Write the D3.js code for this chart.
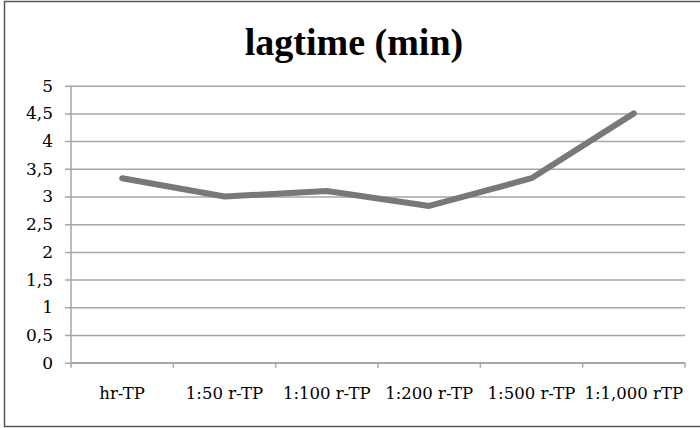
<!DOCTYPE html>
<html>
<head>
<meta charset="utf-8">
<script src="https://cdn.jsdelivr.net/npm/d3@7.9.0/dist/d3.min.js"></script>
<style>
  body { margin: 0; background: #fff; }
  svg { display: block; font-family: "DejaVu Serif", serif; }
</style>
</head>
<body>
<svg width="700" height="428"></svg>
<script>
// chart data
const categories = ['hr-TP', '1:50 r-TP', '1:100 r-TP', '1:200 r-TP', '1:500 r-TP', '1:1,000 rTP'];
const lagtime = [3.33, 3.0, 3.1, 2.83, 3.33, 4.5];
const yTicks = [0, 0.5, 1, 1.5, 2, 2.5, 3, 3.5, 4, 4.5, 5];

const svg = d3.select('svg');

// outer frame
svg.append('rect')
  .attr('x', 4.5).attr('y', 1.5)
  .attr('width', 700).attr('height', 425)
  .attr('fill', '#fff')
  .attr('stroke', '#555')
  .attr('stroke-width', 1.5);

const plotL = 71, plotR = 685, plotT = 85.7, plotB = 362.7;

const x = d3.scaleBand().domain(categories).range([plotL, plotR]);
const y = d3.scaleLinear().domain([0, 5]).range([plotB, plotT]);

// title
svg.append('text')
  .attr('x', 354).attr('y', 55)
  .attr('text-anchor', 'middle')
  .attr('font-family', '"Liberation Serif", serif')
  .attr('font-size', 38)
  .attr('font-weight', 'bold')
  .text('lagtime (min)');

// gridlines + y ticks
const fmt = (d) => String(d).replace('.', ',');
const yAxis = svg.append('g')
  .attr('transform', `translate(${plotL},0)`)
  .call(d3.axisLeft(y).tickValues(yTicks).tickFormat(fmt).tickSize(-(plotR - plotL)).tickSizeOuter(0));
yAxis.select('.domain').remove();
yAxis.selectAll('.tick line')
  .attr('x1', -6)
  .attr('stroke', '#a6a6a6')
  .attr('stroke-width', 1.5);
yAxis.selectAll('.tick text')
  .attr('x', -18)
  .attr('font-size', 17)
  .attr('font-family', '"DejaVu Serif", serif')
  .attr('fill', '#000');

// y axis line
svg.append('line')
  .attr('x1', plotL).attr('x2', plotL)
  .attr('y1', plotT).attr('y2', plotB)
  .attr('stroke', '#a6a6a6').attr('stroke-width', 1.5);

// x axis with ticks at band edges
const xg = svg.append('g');
xg.append('line')
  .attr('x1', plotL).attr('x2', plotR)
  .attr('y1', plotB).attr('y2', plotB)
  .attr('stroke', '#a6a6a6').attr('stroke-width', 1.5);
const edges = categories.map((c) => x(c)).concat([plotR]);
xg.selectAll('.xt')
  .data(edges)
  .join('line')
  .attr('x1', (d) => d).attr('x2', (d) => d)
  .attr('y1', plotB).attr('y2', plotB + 5)
  .attr('stroke', '#a6a6a6').attr('stroke-width', 1.5);
xg.selectAll('.xl')
  .data(categories)
  .join('text')
  .attr('x', (d) => x(d) + x.bandwidth() / 2)
  .attr('y', 399)
  .attr('text-anchor', 'middle')
  .attr('font-size', 16.5)
  .text((d) => d);

// the line
const line = d3.line()
  .x((d, i) => x(categories[i]) + x.bandwidth() / 2)
  .y((d) => y(d));
svg.append('path')
  .datum(lagtime)
  .attr('d', line)
  .attr('fill', 'none')
  .attr('stroke', '#787878')
  .attr('stroke-width', 6)
  .attr('stroke-linecap', 'round')
  .attr('stroke-linejoin', 'round');
</script>
</body>
</html>
